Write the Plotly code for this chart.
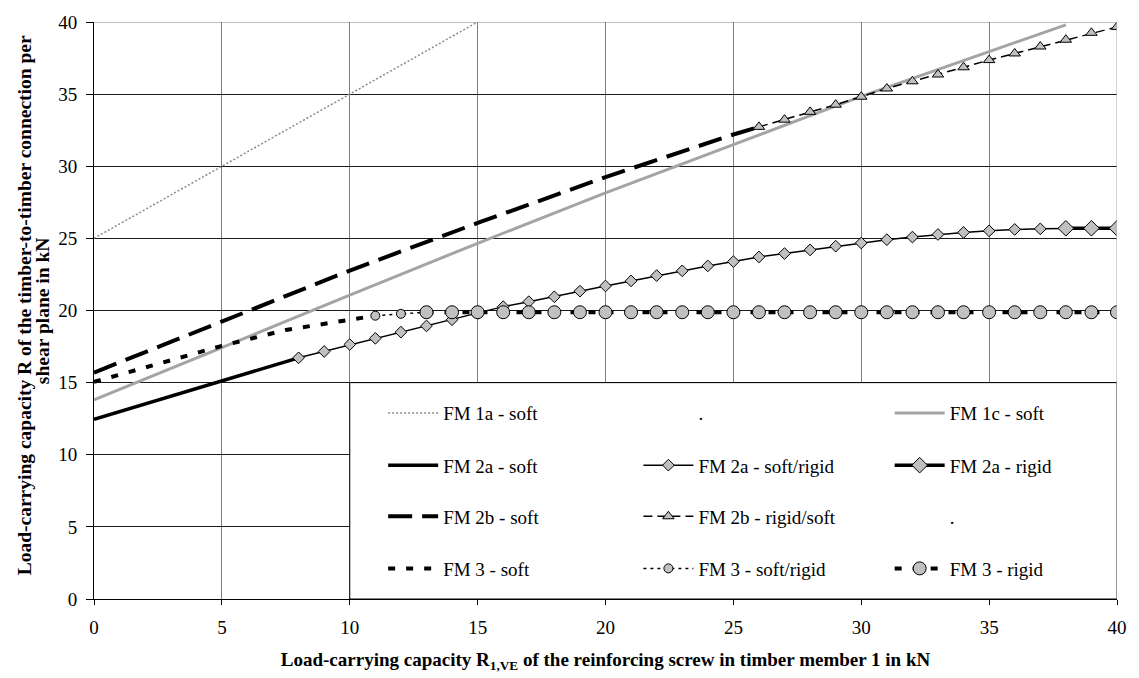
import plotly.graph_objects as go

# ---------------- data ----------------
x_1a = [0, 5, 10, 15]
y_1a = [25, 30, 35, 40]

x_1c = [0, 5, 10, 15, 20, 25, 30, 35, 38]
y_1c = [13.8, 17.45, 21.07, 24.66, 28.16, 31.5, 34.85, 37.95, 39.8]

x_2a_soft = [0, 4, 8]
y_2a_soft = [12.45, 14.6, 16.72]

x_2a_sr = [8, 9, 10, 11, 12, 13, 14, 15, 16, 17, 18, 19, 20, 21, 22, 23, 24,
           25, 26, 27, 28, 29, 30, 31, 32, 33, 34, 35, 36, 37, 38, 39, 40]
y_2a_sr = [16.72, 17.16, 17.64, 18.07, 18.5, 18.93, 19.36, 19.8, 20.27, 20.61,
           20.95, 21.34, 21.7, 22.05, 22.42, 22.75, 23.09, 23.39, 23.71, 23.95,
           24.2, 24.46, 24.68, 24.91, 25.09, 25.27, 25.41, 25.52, 25.62, 25.66,
           25.7, 25.7, 25.7]

x_2a_rigid = [38, 39, 40]
y_2a_rigid = [25.7, 25.7, 25.7]

x_2b_soft = [0, 5, 10, 15, 20, 25, 26]
y_2b_soft = [15.7, 19.27, 22.77, 26.07, 29.25, 32.2, 32.73]

x_2b_rs = [26, 27, 28, 29, 30, 31, 32, 33, 34, 35, 36, 37, 38, 39, 40]
y_2b_rs = [32.73, 33.23, 33.77, 34.27, 34.82, 35.39, 35.89, 36.36, 36.86,
           37.36, 37.82, 38.3, 38.77, 39.25, 39.66]

x_3_soft = [0, 2.5, 5, 7.5, 10, 11]
y_3_soft = [15.05, 16.3, 17.55, 18.65, 19.4, 19.64]

x_3_sr = [11, 12, 13]
y_3_sr = [19.64, 19.77, 19.88]

x_3_rigid = [13, 14, 15, 16, 17, 18, 19, 20, 21, 22, 23, 24, 25, 26, 27, 28,
             29, 30, 31, 32, 33, 34, 35, 36, 37, 38, 39, 40]
y_3_rigid = [19.88, 19.88, 19.88, 19.88, 19.88, 19.88, 19.88, 19.88, 19.88,
             19.88, 19.88, 19.88, 19.88, 19.88, 19.88, 19.88, 19.88, 19.88,
             19.88, 19.88, 19.88, 19.88, 19.88, 19.88, 19.88, 19.88, 19.88,
             19.88]

x_ticks = [0, 5, 10, 15, 20, 25, 30, 35, 40]
y_ticks = [0, 5, 10, 15, 20, 25, 30, 35, 40]

x_title = "Load-carrying capacity R<sub>1,VE</sub> of the reinforcing screw in timber member 1 in kN"
y_title_1 = "Load-carrying capacity R of the timber-to-timber connection per"
y_title_2 = "shear plane in kN"

# ---------------- styling ----------------
FONT = "Liberation Serif"
GREY = "#c0c0c0"
BLK = "black"

L, R, T, B = 94, 19, 12, 79
W, H = 1139, 678
pw, ph = W - L - R, H - T - B


def px_x(p):
    return (p - L) / pw


def px_y(p):
    return (H - B - p) / ph


# legend grid (pixel positions of the legend cells)
col_left = [384, 640, 892]
row_center = [410, 463, 515, 568]

fig = go.Figure()
legend_layout = {}
slot = [0]


def add(x, y, name, line, mode="lines", marker=None):
    i = slot[0]
    r, c = divmod(i, 3)
    key = "legend" if i == 0 else "legend%d" % (i + 1)
    legend_layout[key] = dict(
        orientation="v", x=px_x(col_left[c]), xanchor="left",
        y=px_y(row_center[r]), yanchor="middle", itemwidth=50,
        bgcolor="rgba(0,0,0,0)", borderwidth=0, itemsizing="trace",
        font=dict(family=FONT, size=19, color="black"))
    fig.add_trace(go.Scatter(x=x, y=y, name=name, mode=mode, line=line,
                             marker=marker, legend=key, hoverinfo="skip"))
    slot[0] += 1


# row 1
add(x_1a, y_1a, "FM 1a - soft", dict(color="#8a8a8a", width=1.5, dash="2px,2px"))
add([None], [None], ".", dict(color="rgba(0,0,0,0)", width=1))
add(x_1c, y_1c, "FM 1c - soft", dict(color="#a4a4a4", width=3))
# row 2
add(x_2a_soft, y_2a_soft, "FM 2a - soft", dict(color=BLK, width=3.5))
add(x_2a_sr, y_2a_sr, "FM 2a - soft/rigid", dict(color=BLK, width=1.5),
    "lines+markers", dict(symbol="diamond", size=9, color=GREY,
                          line=dict(color=BLK, width=1)))
add(x_2a_rigid, y_2a_rigid, "FM 2a - rigid", dict(color=BLK, width=3.5),
    "lines+markers", dict(symbol="diamond", size=12, color=GREY,
                          line=dict(color=BLK, width=1)))
# row 3
add(x_2b_soft, y_2b_soft, "FM 2b - soft",
    dict(color=BLK, width=4, dash="24px,10px"))
add(x_2b_rs, y_2b_rs, "FM 2b - rigid/soft",
    dict(color=BLK, width=1.5, dash="9px,5px"),
    "lines+markers", dict(symbol="triangle-up", size=10, color=GREY,
                          line=dict(color=BLK, width=1)))
add([None], [None], ".", dict(color="rgba(0,0,0,0)", width=1))
# row 4
add(x_3_soft, y_3_soft, "FM 3 - soft",
    dict(color=BLK, width=4, dash="7px,11px"))
add(x_3_sr, y_3_sr, "FM 3 - soft/rigid",
    dict(color=BLK, width=1.5, dash="3px,4px"),
    "lines+markers", dict(symbol="circle", size=9, color=GREY,
                          line=dict(color=BLK, width=1)))
add(x_3_rigid, y_3_rigid, "FM 3 - rigid",
    dict(color=BLK, width=4, dash="7px,11px"),
    "lines+markers", dict(symbol="circle", size=13, color=GREY,
                          line=dict(color=BLK, width=1)))

fig.update_layout(
    width=W, height=H,
    margin=dict(l=L, r=R, t=T, b=B, pad=0),
    paper_bgcolor="white", plot_bgcolor="white",
    font=dict(family=FONT, size=19, color="black"),
    showlegend=True,
    xaxis=dict(range=[0, 40], tickvals=x_ticks, ticks="outside", ticklen=5,
               tickcolor="black", showline=True, linecolor="black",
               linewidth=1, showgrid=True, gridcolor="#808080", gridwidth=1,
               zeroline=False, ticklabelstandoff=6,
               tickfont=dict(family=FONT, size=19, color="black"),
               title=dict(text=x_title, standoff=15,
                          font=dict(family=FONT, size=19, color="black",
                                    weight="bold"))),
    yaxis=dict(range=[0, 40], tickvals=y_ticks, ticks="outside", ticklen=7,
               tickcolor="black", showline=True, linecolor="black",
               linewidth=1, showgrid=True, gridcolor="#1a1a1a", gridwidth=1,
               zeroline=False, ticklabelstandoff=5,
               tickfont=dict(family=FONT, size=19, color="black")),
    shapes=[
        dict(type="rect", xref="x", yref="y", x0=10, x1=40, y0=0, y1=15,
             fillcolor="white", line=dict(color="black", width=1),
             layer="between"),
        dict(type="line", xref="x", yref="y", x0=0, x1=40, y0=40, y1=40,
             line=dict(color="#808080", width=1), layer="above"),
        dict(type="line", xref="x", yref="y", x0=40, x1=40, y0=0, y1=40,
             line=dict(color="#a8a8a8", width=1), layer="above"),
    ],
    annotations=[
        dict(text=y_title_1, textangle=-90, xref="paper", yref="paper",
             x=px_x(24), y=px_y(300), xanchor="center", yanchor="middle",
             showarrow=False,
             font=dict(family=FONT, size=19.5, color="black", weight="bold")),
        dict(text=y_title_2, textangle=-90, xref="paper", yref="paper",
             x=px_x(43), y=px_y(306), xanchor="center", yanchor="middle",
             showarrow=False,
             font=dict(family=FONT, size=19.5, color="black", weight="bold")),
    ],
)
fig.update_layout(**legend_layout)

fig.write_html("out.html")
